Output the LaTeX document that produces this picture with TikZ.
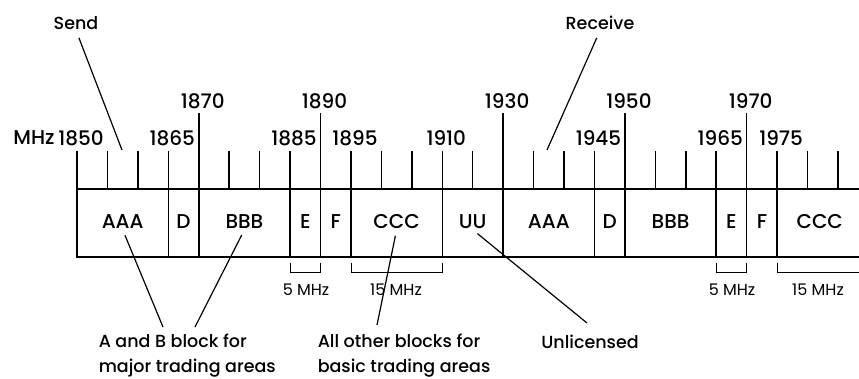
\documentclass[tikz,border=0pt]{standalone}
\usepackage{fontspec}
\setmainfont{Poppins}[UprightFont=* Medium]
\newfontfamily\thinfont{Poppins}
\usetikzlibrary{calc}

\begin{document}
\begin{tikzpicture}[x=1pt,y=-1pt,line width=1.5pt,
  lbl/.style={font=\fontsize{17.5}{25}\selectfont,inner sep=0pt},
  num/.style={font=\fontsize{20}{24}\selectfont,inner sep=0pt},
  small/.style={font=\thinfont\fontsize{16}{18}\selectfont,inner sep=0pt},
  lead/.style={line width=1.2pt},
  blead/.style={line width=1.2pt,shorten <=6pt},
  brace/.style={line width=0.9pt}]
  \useasboundingbox (0,0) rectangle (859,379);
  % ===== scale: ticks every 5 MHz =====
  \foreach \i in {0,...,25}
    \draw (77+\i*30.44,151) -- (77+\i*30.44,189);
  \foreach \i in {4,8,14,18,22}
    \draw (77+\i*30.44,113) -- (77+\i*30.44,151);
  % frequency labels
  \node[num] (mhz) at (34,138) {MHz};
  \foreach \i/\f in {0/1850,3/1865,7/1885,9/1895,12/1910,17/1945,21/1965,23/1975}
    \node[num] (f\f) at (81+\i*30.44,138) {\f};
  \foreach \i/\f in {4/1870,8/1890,14/1930,18/1950,22/1970}
    \node[num] (f\f) at (81+\i*30.44,101) {\f};
  % ===== blocks =====
  \draw (859,189) -- (77,189) -- (77,257) -- (859,257);
  \foreach \i in {3,4,7,8,9,12,14,17,18,21,22,23}
    \draw (77+\i*30.44,189) -- (77+\i*30.44,257);
  \foreach \n/\t/\p in {a1/AAA/1.5,d1/D/3.5,b1/BBB/5.5,e1/E/7.5,f1/F/8.5,c1/CCC/10.5,uu/UU/13,
                        a2/AAA/15.5,d2/D/17.5,b2/BBB/19.5,e2/E/21.5,f2/F/22.5,c2/CCC/24.4}
    \node[num] (\n) at (77+\p*30.44,222) {\t};
  % widths under the blocks
  \foreach \a/\b in {7/8,9/12,21/22}
    \draw[brace] (77+\a*30.44,263) -- (77+\a*30.44,272) -- (77+\b*30.44,272) -- (77+\b*30.44,263);
  \draw[brace] (77+23*30.44,263) -- (77+23*30.44,272) -- (859,272);
  \node[small] (w1) at (306,290) {5 MHz};
  \node[small] (w2) at (396,290) {15 MHz};
  \node[small] (w3) at (732,290) {5 MHz};
  \node[small] (w4) at (818,290) {15 MHz};
  % ===== send / receive =====
  \node[lbl] (send) at (76,23) {Send};
  \node[lbl] (rcv) at (600,23) {Receive};
  \coordinate (sendTip) at (122,150);
  \coordinate (rcvTip) at (547,150);
  \draw[lead,shorten <=8pt] (send.south) -- (sendTip);
  \draw[lead,shorten <=8pt] (rcv.south) -- (rcvTip);
  % ===== notes below =====
  \node[lbl,anchor=north west,align=left] (abtxt) at (98,333) {A and B block for\\major trading areas};
  \node[lbl,anchor=north west,align=left] (otxt) at (317,333) {All other blocks for\\basic trading areas};
  \node[lbl,anchor=north] (unl) at (590,334) {Unlicensed};
  \draw[blead] (a1.south) -- ($(abtxt.north west)+(65,-6)$);
  \draw[blead] (b1.south) -- ($(abtxt.north west)+(97,-6)$);
  \draw[blead] (c1.south) -- ($(otxt.north west)+(60,-8)$);
  \draw[blead] (uu.south) -- ($(unl.north)+(-3,-11)$);
\end{tikzpicture}
\end{document}
